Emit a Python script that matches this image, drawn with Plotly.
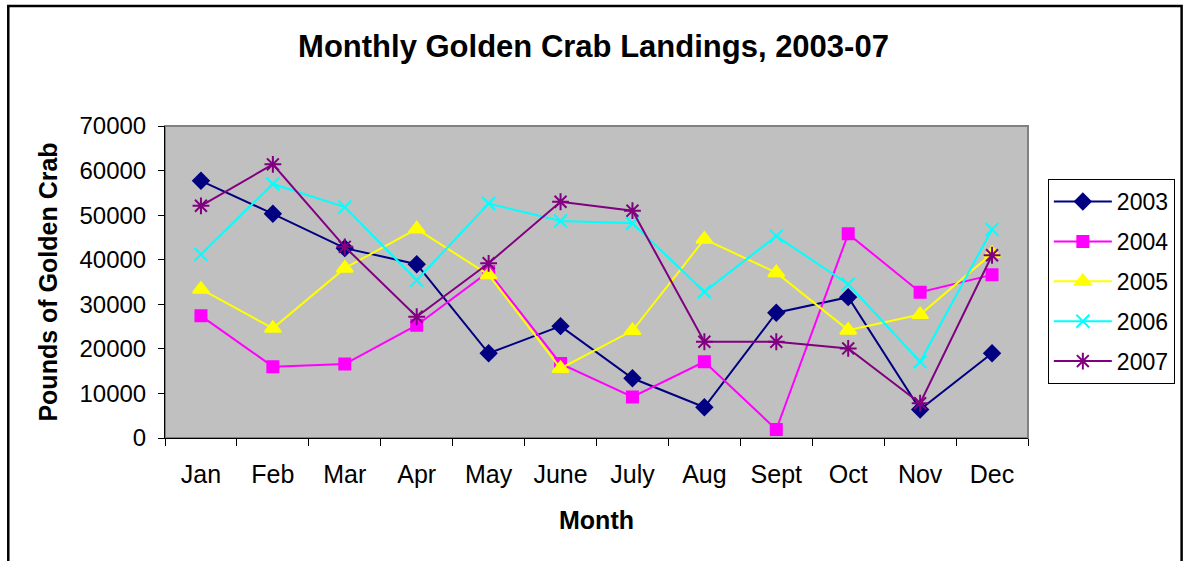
import plotly.graph_objects as go

months = ["Jan", "Feb", "Mar", "Apr", "May", "June", "July", "Aug", "Sept", "Oct", "Nov", "Dec"]

y2003 = [57700, 50300, 42600, 39000, 19000, 25100, 13400, 6900, 28100, 31600, 6400, 19000]
y2004 = [27400, 16000, 16600, 25300, 37300, 16700, 9200, 17100, 1900, 45800, 32700, 36600]
y2005 = [33400, 24600, 38100, 46900, 36600, 15600, 24100, 44600, 37100, 24200, 27700, 41400]
y2006 = [41200, 57000, 51800, 35400, 52600, 48700, 48200, 32800, 45300, 34500, 17100, 46800]
y2007 = [52100, 61400, 42900, 27200, 39200, 53000, 51000, 21600, 21600, 20100, 7800, 41000]

series = [
    ("2003", y2003, "#000080", "diamond", 12),
    ("2004", y2004, "#FF00FF", "square", 11),
    ("2005", y2005, "#FFFF00", "triangle-up", 14),
    ("2006", y2006, "#00FFFF", "x-thin", 13),
    ("2007", y2007, "#800080", "asterisk", 14),
]

FONT = "Arial, Liberation Sans, sans-serif"

fig = go.Figure()
for name, vals, color, sym, size in series:
    fig.add_trace(
        go.Scatter(
            x=months,
            y=vals,
            name=name,
            legendgroup=name,
            mode="lines+markers",
            line=dict(color=color, width=2),
            marker=dict(
                symbol=sym,
                size=size,
                color=color,
                line=dict(color=color, width=2),
            ),
        )
    )

fig.update_layout(
    width=1187,
    height=561,
    margin=dict(l=165, r=157, t=126, b=123),
    paper_bgcolor="white",
    plot_bgcolor="#C0C0C0",
    font=dict(family=FONT, color="black", size=24),
    title=dict(
        text="<b>Monthly Golden Crab Landings, 2003-07</b>",
        x=0.5,
        xanchor="center",
        y=0.918,
        yanchor="middle",
        font=dict(size=31, family=FONT),
    ),
    legend=dict(
        x=1.023,
        y=0.830,
        xanchor="left",
        yanchor="top",
        bgcolor="white",
        bordercolor="black",
        borderwidth=1,
        font=dict(size=23),
        tracegroupgap=7,
        itemwidth=58,
    ),
    xaxis=dict(
        title=dict(text="<b>Month</b>", font=dict(size=25), standoff=24),
        showline=True,
        linecolor="black",
        linewidth=1,
        ticks="outside",
        tickson="boundaries",
        ticklen=7,
        tickcolor="black",
        showgrid=False,
        range=[-0.5, 11.5],
        tickfont=dict(size=25),
        ticklabelstandoff=14,
    ),
    yaxis=dict(
        title=dict(text="<b>Pounds of Golden Crab</b>", font=dict(size=25), standoff=14),
        range=[0, 70000],
        dtick=10000,
        showline=True,
        linecolor="black",
        linewidth=1,
        ticks="outside",
        ticklen=6,
        tickcolor="black",
        showgrid=False,
        zeroline=False,
        tickformat="d",
        tickfont=dict(size=24),
        ticklabelstandoff=7,
    ),
    shapes=[
        dict(
            type="rect",
            xref="paper",
            yref="paper",
            x0=0,
            x1=1,
            y0=0,
            y1=1,
            line=dict(color="#808080", width=2),
            layer="below",
        ),
        dict(
            type="rect",
            xref="paper",
            yref="paper",
            x0=-0.1816,
            x1=1.1780,
            y0=-0.5,
            y1=1.385,
            line=dict(color="black", width=2.5),
            layer="below",
        ),
    ],
)

fig.write_html(
    "out.html",
    config={"displayModeBar": False},
    post_script="document.body.style.margin = '0';",
)
